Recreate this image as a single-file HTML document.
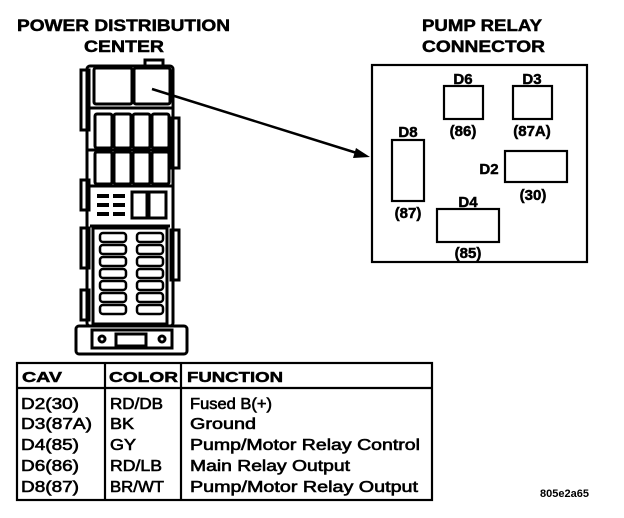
<!DOCTYPE html>
<html><head><style>
body{margin:0;background:#fff;}
svg{display:block;font-family:"Liberation Sans",Arial,sans-serif;font-weight:bold;}
</style></head><body>
<svg width="624" height="518" viewBox="0 0 624 518" xmlns="http://www.w3.org/2000/svg">
<g fill="#000" stroke="#000" stroke-width="0.5">
<text x="17" y="31" font-size="17" textLength="213" lengthAdjust="spacingAndGlyphs">POWER DISTRIBUTION</text>
<text x="84" y="52" font-size="17" textLength="80" lengthAdjust="spacingAndGlyphs">CENTER</text>
<text x="422" y="31" font-size="17" textLength="120" lengthAdjust="spacingAndGlyphs">PUMP RELAY</text>
<text x="422" y="52" font-size="17" textLength="123" lengthAdjust="spacingAndGlyphs">CONNECTOR</text>
</g>
<!-- fuse box -->
<g fill="none" stroke="#000" stroke-width="3">
<rect x="87" y="66" width="86" height="260" rx="3"/>
<rect x="81" y="70" width="8" height="60"/>
<rect x="81" y="180" width="8" height="30"/>
<rect x="81" y="228" width="8" height="40"/>
<rect x="81" y="290" width="8" height="30"/>
<rect x="171" y="118" width="8" height="50"/>
<rect x="171" y="230" width="8" height="50"/>
<rect x="145" y="60" width="18" height="8"/>
<rect x="94" y="68" width="38" height="36" rx="2"/>
<rect x="134" y="68" width="36" height="36" rx="2"/>
<line x1="87" y1="108" x2="173" y2="108"/>
<rect x="95" y="114" width="17" height="34" rx="2"/>
<rect x="114" y="114" width="17" height="34" rx="2"/>
<rect x="133" y="114" width="17" height="34" rx="2"/>
<rect x="152" y="114" width="17" height="34" rx="2"/>
<line x1="87" y1="150" x2="173" y2="150"/>
<rect x="95" y="152" width="17" height="32" rx="2"/>
<rect x="114" y="152" width="17" height="32" rx="2"/>
<rect x="133" y="152" width="17" height="32" rx="2"/>
<rect x="152" y="152" width="17" height="32" rx="2"/>
<line x1="87" y1="186" x2="173" y2="186"/>
<rect x="132" y="192" width="15" height="26"/>
<rect x="149" y="192" width="17" height="26"/>
<line x1="90" y1="226" x2="170" y2="226"/>
<rect x="93" y="228" width="74" height="96"/>
<rect x="76" y="326" width="111" height="28" rx="3"/>
<rect x="92" y="330" width="80" height="18"/>
<rect x="116" y="334" width="30" height="12"/>
<circle cx="102" cy="339" r="3"/>
<circle cx="162" cy="339" r="3"/>
</g>
<g fill="#000">
<rect x="97" y="194" width="12" height="4"/><rect x="113" y="194" width="12" height="4"/>
<rect x="97" y="203" width="12" height="4"/><rect x="113" y="203" width="12" height="4"/>
<rect x="97" y="212" width="12" height="4"/><rect x="113" y="212" width="12" height="4"/>
</g>
<g fill="none" stroke="#000" stroke-width="2.5">
<rect x="100" y="233" width="26" height="9" rx="3"/><rect x="137" y="233" width="26" height="9" rx="3"/>
<rect x="100" y="245" width="26" height="9" rx="3"/><rect x="137" y="245" width="26" height="9" rx="3"/>
<rect x="100" y="257" width="26" height="9" rx="3"/><rect x="137" y="257" width="26" height="9" rx="3"/>
<rect x="100" y="269" width="26" height="9" rx="3"/><rect x="137" y="269" width="26" height="9" rx="3"/>
<rect x="100" y="281" width="26" height="9" rx="3"/><rect x="137" y="281" width="26" height="9" rx="3"/>
<rect x="100" y="293" width="26" height="9" rx="3"/><rect x="137" y="293" width="26" height="9" rx="3"/>
<rect x="100" y="305" width="26" height="9" rx="3"/><rect x="137" y="305" width="26" height="9" rx="3"/>
</g>
<!-- arrow -->
<line x1="152" y1="89" x2="360" y2="154" stroke="#000" stroke-width="2.5"/>
<polygon points="370,157 356,148 353,158" fill="#000"/>
<!-- connector -->
<g fill="none" stroke="#000" stroke-width="2.2">
<rect x="372" y="65" width="215" height="197"/>
<rect x="444" y="86" width="39" height="33"/>
<rect x="513" y="86" width="39" height="33"/>
<rect x="392" y="140" width="32" height="61"/>
<rect x="505" y="151" width="62" height="31"/>
<rect x="437" y="209" width="62" height="33"/>
</g>
<g fill="#000" font-size="15" stroke="#000" stroke-width="0.5">
<text x="463" y="84" text-anchor="middle">D6</text>
<text x="532" y="84" text-anchor="middle">D3</text>
<text x="463" y="136" text-anchor="middle">(86)</text>
<text x="532" y="136" text-anchor="middle">(87A)</text>
<text x="408" y="137" text-anchor="middle">D8</text>
<text x="408" y="218" text-anchor="middle">(87)</text>
<text x="489" y="174" text-anchor="middle">D2</text>
<text x="533" y="200" text-anchor="middle">(30)</text>
<text x="468" y="207" text-anchor="middle">D4</text>
<text x="468" y="258" text-anchor="middle">(85)</text>
</g>
<!-- table -->
<g fill="none" stroke="#000" stroke-width="2.2">
<rect x="17" y="363" width="415" height="137"/>
<line x1="17" y1="388" x2="432" y2="388"/>
<line x1="105" y1="363" x2="105" y2="500"/>
<line x1="181" y1="363" x2="181" y2="500"/>
</g>
<g fill="#000" font-size="15" stroke="#000" stroke-width="0.5">
<text x="22" y="382" textLength="40" lengthAdjust="spacingAndGlyphs">CAV</text>
<text x="109" y="382" textLength="69" lengthAdjust="spacingAndGlyphs">COLOR</text>
<text x="187" y="382" textLength="96" lengthAdjust="spacingAndGlyphs">FUNCTION</text>
</g>
<g fill="#000" font-size="15.5" font-weight="normal" stroke="#000" stroke-width="0.6">
<text x="21" y="409" textLength="58" lengthAdjust="spacingAndGlyphs">D2(30)</text>
<text x="21" y="429" textLength="71" lengthAdjust="spacingAndGlyphs">D3(87A)</text>
<text x="21" y="450" textLength="58" lengthAdjust="spacingAndGlyphs">D4(85)</text>
<text x="21" y="471" textLength="58" lengthAdjust="spacingAndGlyphs">D6(86)</text>
<text x="21" y="492" textLength="58" lengthAdjust="spacingAndGlyphs">D8(87)</text>
<text x="110" y="409" textLength="53" lengthAdjust="spacingAndGlyphs">RD/DB</text>
<text x="110" y="429" textLength="24" lengthAdjust="spacingAndGlyphs">BK</text>
<text x="110" y="450" textLength="26" lengthAdjust="spacingAndGlyphs">GY</text>
<text x="110" y="471" textLength="52" lengthAdjust="spacingAndGlyphs">RD/LB</text>
<text x="110" y="492" textLength="54" lengthAdjust="spacingAndGlyphs">BR/WT</text>
<text x="190" y="409" textLength="82" lengthAdjust="spacingAndGlyphs">Fused B(+)</text>
<text x="190" y="429" textLength="66" lengthAdjust="spacingAndGlyphs">Ground</text>
<text x="190" y="450" textLength="230" lengthAdjust="spacingAndGlyphs">Pump/Motor Relay Control</text>
<text x="190" y="471" textLength="160" lengthAdjust="spacingAndGlyphs">Main Relay Output</text>
<text x="190" y="492" textLength="228" lengthAdjust="spacingAndGlyphs">Pump/Motor Relay Output</text>
</g>
<text x="540" y="497" font-size="11" fill="#000">805e2a65</text>
</svg>
</body></html>
